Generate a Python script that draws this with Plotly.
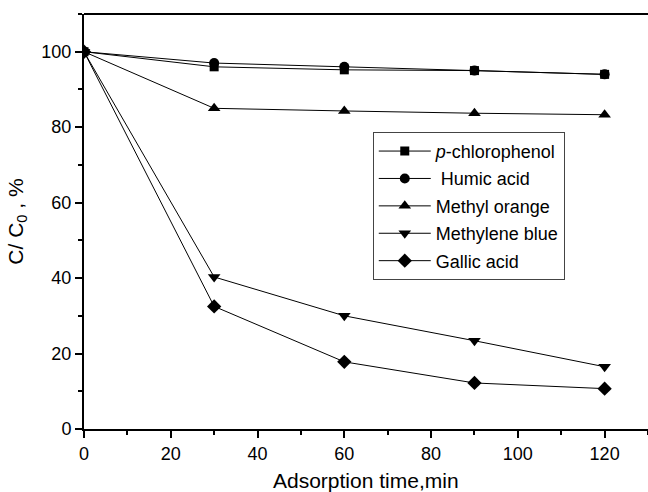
import plotly.graph_objects as go

time_min = [0, 30, 60, 90, 120]
p_chlorophenol = [100, 96.0, 95.2, 95.0, 94.0]
humic_acid = [100, 97.0, 96.0, 95.0, 94.0]
methyl_orange = [100, 85.0, 84.3, 83.7, 83.3]
methylene_blue = [100, 40.3, 30.0, 23.4, 16.5]
gallic_acid = [100, 32.5, 17.8, 12.2, 10.7]

series = [
    ("<i>p</i>-chlorophenol", p_chlorophenol, "square", 9),
    (" Humic acid", humic_acid, "circle", 10),
    ("Methyl orange", methyl_orange, "triangle-up", 11),
    ("Methylene blue", methylene_blue, "triangle-down", 11),
    ("Gallic acid", gallic_acid, "diamond", 11),
]

FONT = "Liberation Sans, Arial, sans-serif"

fig = go.Figure()
for i, (name, vals, sym, sz) in enumerate(series):
    fig.add_trace(go.Scatter(
        x=time_min, y=vals, name=name, mode="lines+markers",
        legendgroup=f"g{i}",
        line=dict(color="black", width=1),
        marker=dict(symbol=sym, size=sz, color="black"),
    ))

axis_common = dict(
    showgrid=False, zeroline=False, showline=True, linecolor="black", linewidth=2,
    ticks="outside", ticklen=7, tickwidth=1.5, tickcolor="black",
    tickfont=dict(family=FONT, size=18, color="black"),
    minor=dict(ticks="outside", ticklen=4, tickwidth=1.5, tickcolor="black"),
)

fig.update_xaxes(range=[0, 130], tickvals=[0, 20, 40, 60, 80, 100, 120],
                 minor_dtick=10, mirror=False,
                 **axis_common)
fig.update_yaxes(range=[0, 110], tickvals=[0, 20, 40, 60, 80, 100],
                 minor_dtick=10,
                 title=dict(text="C/ C<sub>0</sub> , %", standoff=12,
                            font=dict(family=FONT, size=21, color="black")),
                 **axis_common)

# x-axis title
fig.add_annotation(text="Adsorption time,min", xref="paper", yref="paper",
                   x=0.5, y=-0.125, xanchor="center", yanchor="middle",
                   showarrow=False, font=dict(family=FONT, size=21, color="black"))

# top frame line
fig.add_shape(type="line", xref="paper", yref="paper", x0=0, x1=1, y0=1, y1=1,
              line=dict(color="black", width=2))

fig.update_layout(
    width=648, height=492,
    margin=dict(l=84, r=0, t=14, b=63),
    plot_bgcolor="white", paper_bgcolor="white",
    legend=dict(x=0.512, y=0.716, xanchor="left", yanchor="top",
                bordercolor="#444", borderwidth=1, bgcolor="white",
                itemwidth=52, tracegroupgap=1,
                font=dict(family=FONT, size=18, color="black")),
    showlegend=True,
)

fig.write_html("out.html")
